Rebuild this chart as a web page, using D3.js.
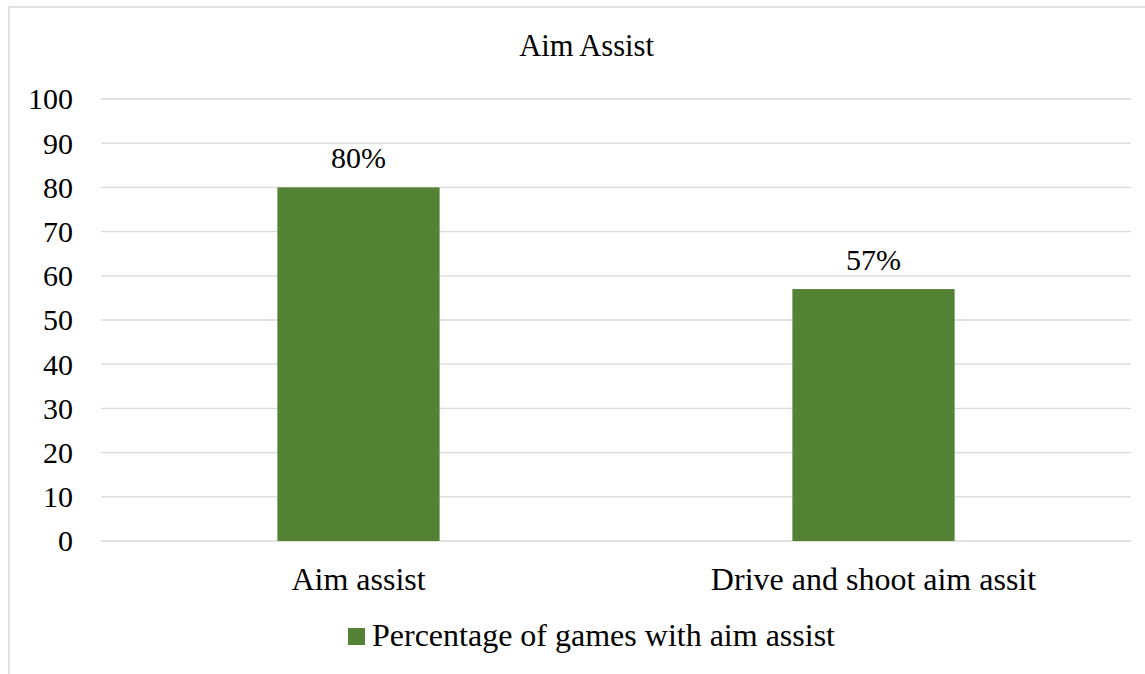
<!DOCTYPE html>
<html>
<head>
<meta charset="utf-8">
<script src="https://cdn.jsdelivr.net/npm/d3@7"></script>
<style>
  html, body { margin: 0; padding: 0; background: #fff; }
</style>
</head>
<body>
<svg id="chart" width="1145" height="674"></svg>
<script>
// Chart data
const categories = ["Aim assist", "Drive and shoot aim assit"];
const values = [80, 57];
const valueLabels = ["80%", "57%"];
const yTicks = [0, 10, 20, 30, 40, 50, 60, 70, 80, 90, 100];
const seriesName = "Percentage of games with aim assist";
const chartTitle = "Aim Assist";

const svg = d3.select("#chart");
const W = 1145, H = 674;
const plot = { left: 101, right: 1131, top: 99, bottom: 541 };
const green = "#548235";
const gridColor = "#d9d9d9";
const serif = '"Liberation Serif"';

// Chart-area border (runs off the right and bottom edges)
svg.append("rect")
  .attr("x", 9).attr("y", 7)
  .attr("width", W + 20).attr("height", H + 20)
  .attr("fill", "none")
  .attr("stroke", gridColor)
  .attr("stroke-width", 1.5);

const x = d3.scaleBand()
  .domain(categories)
  .range([plot.left, plot.right])
  .paddingInner(0.685)
  .paddingOuter(0.3425);

const y = d3.scaleLinear()
  .domain([0, 100])
  .range([plot.bottom, plot.top]);

// Horizontal gridlines
svg.append("g")
  .selectAll("line")
  .data(yTicks)
  .join("line")
  .attr("x1", plot.left).attr("x2", plot.right)
  .attr("y1", d => y(d)).attr("y2", d => y(d))
  .attr("stroke", gridColor)
  .attr("stroke-width", 1.3);

// Y axis labels
const yAxis = d3.axisLeft(y).tickValues(yTicks).tickSize(0).tickPadding(0);
const yg = svg.append("g")
  .attr("transform", `translate(73,0)`)
  .call(yAxis)
  .attr("font-family", null)
  .attr("font-size", null);
yg.select(".domain").remove();
yg.selectAll("text")
  .style("font-family", serif)
  .style("font-size", "30px")
  .attr("fill", "#000")
  .attr("dy", "0.33em");

// Bars
svg.append("g")
  .selectAll("rect")
  .data(values)
  .join("rect")
  .attr("x", (d, i) => x(categories[i]))
  .attr("y", d => y(d))
  .attr("width", x.bandwidth())
  .attr("height", d => y(0) - y(d))
  .attr("fill", green);

// Value labels
svg.append("g")
  .selectAll("text")
  .data(values)
  .join("text")
  .attr("x", (d, i) => x(categories[i]) + x.bandwidth() / 2)
  .attr("y", d => y(d) - 19)
  .attr("text-anchor", "middle")
  .style("font-family", serif)
  .style("font-size", "30px")
  .attr("fill", "#000")
  .text((d, i) => valueLabels[i]);

// Category labels
const xAxis = d3.axisBottom(x).tickSize(0).tickPadding(0);
const xg = svg.append("g")
  .attr("transform", `translate(0,590)`)
  .call(xAxis)
  .attr("font-family", null)
  .attr("font-size", null);
xg.select(".domain").remove();
xg.selectAll("text")
  .style("font-family", serif)
  .style("font-size", "32px")
  .attr("fill", "#000")
  .attr("dy", 0);

// Title
svg.append("text")
  .attr("x", 586.5).attr("y", 56)
  .attr("text-anchor", "middle")
  .style("font-family", serif)
  .style("font-size", "30.5px")
  .attr("fill", "#000")
  .text(chartTitle);

// Legend
const legend = svg.append("g");
legend.append("rect")
  .attr("x", 348).attr("y", 628)
  .attr("width", 17).attr("height", 17)
  .attr("fill", green);
legend.append("text")
  .attr("x", 372).attr("y", 646)
  .style("font-family", serif)
  .style("font-size", "32px")
  .attr("fill", "#000")
  .text(seriesName);
</script>
</body>
</html>
